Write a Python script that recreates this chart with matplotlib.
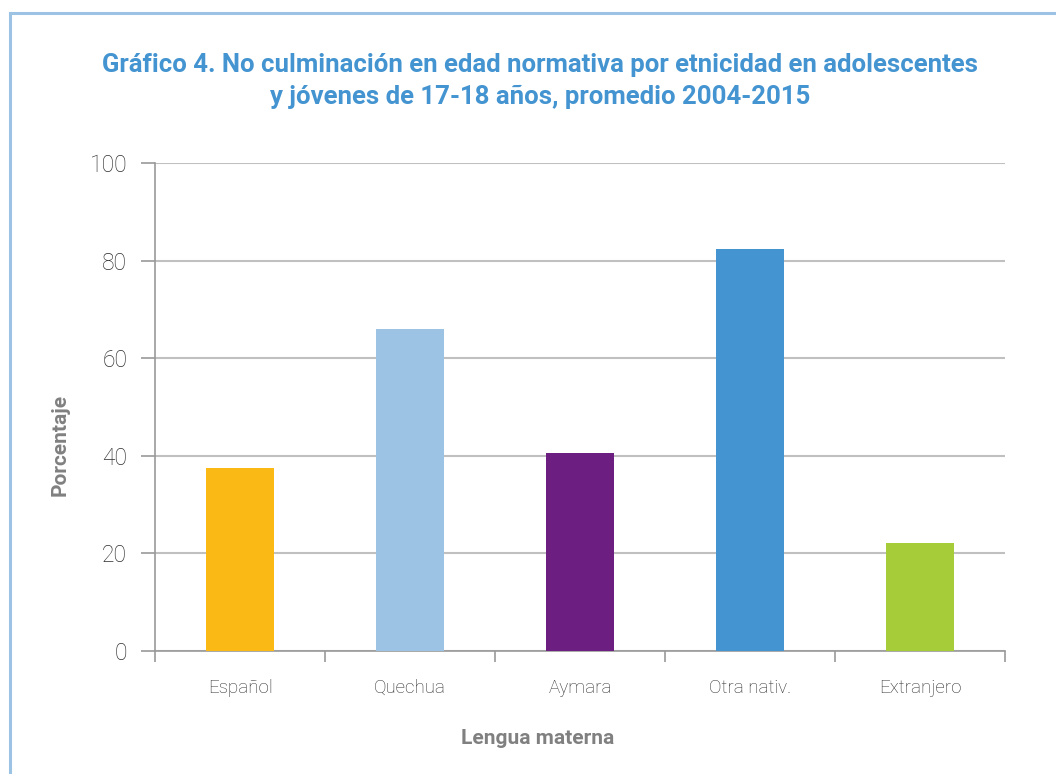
import matplotlib
matplotlib.use("Agg")
import matplotlib.pyplot as plt
from matplotlib.lines import Line2D
import numpy as np

categories = ["Español", "Quechua", "Aymara", "Otra nativ.", "Extranjero"]
values = [37.5, 66.0, 40.6, 82.4, 22.1]
colors = ["#FBB916", "#9DC3E4", "#6C1F80", "#4394D0", "#A6CD39"]
yticks = [0, 20, 40, 60, 80, 100]
title = "Gráfico 4. No culminación en edad normativa por etnicidad en adolescentes\ny jóvenes de 17-18 años, promedio 2004-2015"
xlabel = "Lengua materna"
ylabel = "Porcentaje"

FAM = ["Roboto", "Liberation Sans", "DejaVu Sans"]
plt.rcParams["font.family"] = FAM

fig = plt.figure(figsize=(10.56, 7.74), dpi=100)
ax = fig.add_axes([155/1056, 1-651/774, (1005-155)/1056, (651-163)/774])

x = np.arange(len(categories))
ax.bar(x, values, width=0.4, color=colors, zorder=3)

ax.set_xlim(-0.5, len(categories) - 0.5)
ax.set_ylim(0, 100)
ax.set_yticks(yticks)
ax.set_yticklabels([str(t) for t in yticks], fontsize=16.5, color="#2e2e2e", fontweight="light")
ax.set_xticks(x)
ax.set_xticklabels(categories, fontsize=13.5, color="#2e2e2e", fontweight="light")
ax.set_xticks(np.arange(len(categories) + 1) - 0.5, minor=True)
ax.tick_params(axis="x", which="major", length=0, pad=20)
ax.tick_params(axis="x", which="minor", length=8, color="#999999", width=1.2, direction="out")
ax.tick_params(axis="y", length=10, color="#999999", width=1.2, direction="out", pad=10)

ax.grid(axis="y", color="#c0c0c0", linewidth=1.5, zorder=0)
for s in ["top", "right"]:
    ax.spines[s].set_visible(False)
ax.spines["left"].set_color("#999999")
ax.spines["bottom"].set_color("#999999")
ax.spines["left"].set_linewidth(1.2)
ax.spines["bottom"].set_linewidth(1.2)

ax.set_xlabel(xlabel, fontsize=15, fontweight="bold", color="#808080")
ax.xaxis.set_label_coords(0.45, (651-738)/488, transform=ax.transAxes)
ax.xaxis.label.set_va("center")
ax.set_ylabel(ylabel, fontsize=15, fontweight="bold", color="#808080")
ax.yaxis.set_label_coords((60-155)/850, (651-445)/488, transform=ax.transAxes)
ax.yaxis.label.set_va("center")

fig.text(540/1056, 1-81/774, title, ha="center", va="center", fontsize=18.5,
         fontweight="bold", color="#4394D0", linespacing=1.45)

# light blue frame (top and left)
fig.add_artist(Line2D([9.5/1056, 9.5/1056], [0, 1-13/774], transform=fig.transFigure,
                      color="#9DC3E4", linewidth=2.2))
fig.add_artist(Line2D([9.5/1056, 1], [1-13/774, 1-13/774], transform=fig.transFigure,
                      color="#9DC3E4", linewidth=2.2))

fig.savefig("out.png", dpi=100)
